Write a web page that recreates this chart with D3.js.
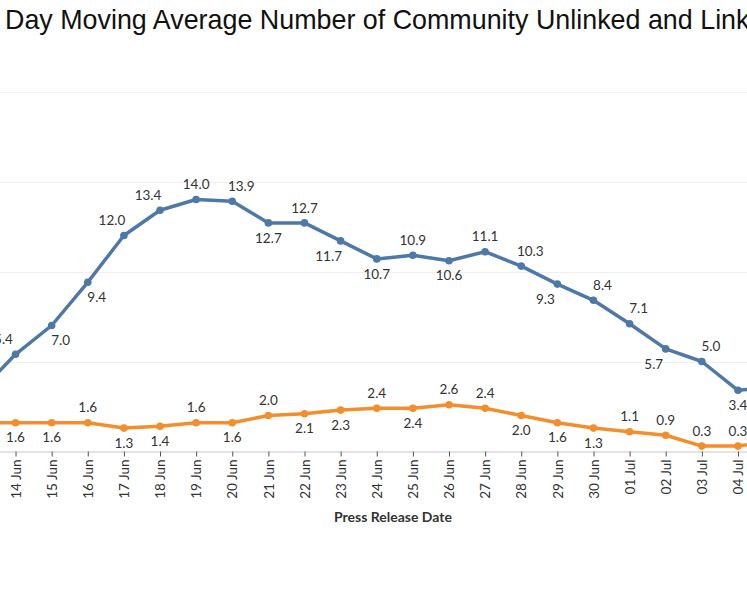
<!DOCTYPE html>
<html>
<head>
<meta charset="utf-8">
<script src="https://cdn.jsdelivr.net/npm/d3@7/dist/d3.min.js"></script>
<style>
  html, body { margin: 0; padding: 0; background: #fff; overflow: hidden; }
  svg { display: block; }
</style>
</head>
<body>
<svg id="chart" width="747" height="598"></svg>
<script>
// ---- Data ----
const dates = ["13 Jun","14 Jun","15 Jun","16 Jun","17 Jun","18 Jun","19 Jun","20 Jun","21 Jun","22 Jun",
  "23 Jun","24 Jun","25 Jun","26 Jun","27 Jun","28 Jun","29 Jun","30 Jun","01 Jul","02 Jul","03 Jul","04 Jul","05 Jul"];
const linkedValues = [3.3,5.4,7.0,9.4,12.0,13.4,14.0,13.9,12.7,12.7,11.7,10.7,10.9,10.6,11.1,10.3,9.3,8.4,7.1,5.7,5.0,3.4,3.6];
const unlinkedValues = [1.6,1.6,1.6,1.6,1.3,1.4,1.6,1.6,2.0,2.1,2.3,2.4,2.4,2.6,2.4,2.0,1.6,1.3,1.1,0.9,0.3,0.3,0.6];
const yTicks = [0,5,10,15,20];
// label placement codes (a = above, b = below, l/r = nudge left/right)
const linkedLabelSide = ["b","al","br","br","al","al","a","ar","b","a","bl","b","a","b","a","ar","bl","ar","ar","bl","ar","b","a"];
const unlinkedLabelSide = ["b","b","b","a","b","b","a","b","a","b","b","a","b","a","a","b","b","b","a","a","a","a","a"];
const titleText = "Day Moving Average Number of Community Unlinked and Linked Cases";
const titleVisiblePart = "Day Moving Average Number of Community Unlinked and Link";
const xAxisTitle = "Press Release Date";

const series = [
  { name: "Linked", values: linkedValues, sides: linkedLabelSide, color: "#4e79a7" },
  { name: "Unlinked", values: unlinkedValues, sides: unlinkedLabelSide, color: "#f28e2b" }
];

// ---- Layout ----
const svg = d3.select("#chart");
const x = d3.scalePoint().domain(dates).range([-20.6, 774.1]);
const y = d3.scaleLinear().domain([0, 20]).range([451.5, 91.5]);

// Title: size so that the visible part spans the window like the reference
const probe = svg.append("text")
  .attr("font-family", "Liberation Sans, Arial, sans-serif")
  .attr("font-size", 20)
  .text(titleVisiblePart);
const probeW = probe.node().getComputedTextLength();
probe.remove();
const titleSize = 20 * 745 / probeW;
svg.append("text")
  .attr("x", 5).attr("y", 29)
  .attr("font-family", "Liberation Sans, Arial, sans-serif")
  .attr("font-size", titleSize)
  .attr("fill", "#111")
  .text(titleText);

// gridlines
svg.append("g").selectAll("line").data(yTicks.filter(t => t > 0)).join("line")
  .attr("x1", 0).attr("x2", 747)
  .attr("y1", d => Math.round(y(d)) + 0.5).attr("y2", d => Math.round(y(d)) + 0.5)
  .attr("stroke", "#efefef").attr("stroke-width", 1);

// x axis
const xAxis = d3.axisBottom(x).tickSize(5).tickPadding(4);
const gx = svg.append("g").attr("transform", `translate(0,${Math.round(y(0)) - 0.5})`).call(xAxis);
gx.select(".domain").attr("stroke", "#c8c8c8").attr("d", "M0,0.5H747");
gx.selectAll(".tick line").attr("stroke", "#555");
gx.selectAll(".tick text")
  .attr("font-family", "Lato, sans-serif")
  .attr("font-size", 13.5)
  .attr("fill", "#333")
  .attr("transform", "rotate(-90)")
  .attr("text-anchor", "end")
  .attr("dy", "0.35em")
  .attr("x", -8)
  .attr("y", 0);

svg.append("text")
  .attr("x", 393).attr("y", 522)
  .attr("text-anchor", "middle")
  .attr("font-family", "Lato, sans-serif")
  .attr("font-weight", "bold")
  .attr("font-size", 14)
  .attr("fill", "#333")
  .text(xAxisTitle);

// lines
const line = d3.line().x((d, i) => x(dates[i])).y(d => y(d));
series.forEach(s => {
  const g = svg.append("g");
  g.append("path").datum(s.values)
    .attr("d", line)
    .attr("fill", "none")
    .attr("stroke", s.color)
    .attr("stroke-width", 3.5)
    .attr("stroke-linejoin", "round");
  g.selectAll("circle").data(s.values).join("circle")
    .attr("cx", (d, i) => x(dates[i]))
    .attr("cy", d => y(d))
    .attr("r", 3.8)
    .attr("fill", s.color);
  g.selectAll("text").data(s.values).join("text")
    .attr("x", (d, i) => {
      const c = s.sides[i];
      return x(dates[i]) + (c.includes("l") ? -12 : c.includes("r") ? 9 : 0);
    })
    .attr("y", (d, i) => y(d) + (s.sides[i].startsWith("a") ? -15 : 15))
    .attr("dy", "0.35em")
    .attr("text-anchor", "middle")
    .attr("font-family", "Lato, sans-serif")
    .attr("font-size", 13.5)
    .attr("fill", "#333")
    .text(d => d.toFixed(1));
});
</script>
</body>
</html>
